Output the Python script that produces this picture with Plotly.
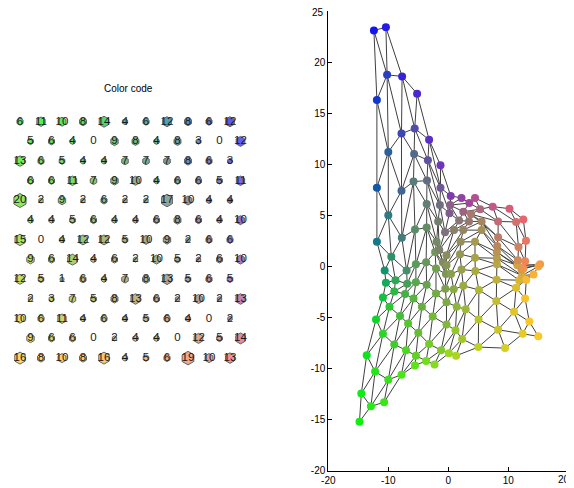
import plotly.graph_objects as go

# ---------------- data ----------------
# hit counts on the 13 x 11 hexagonal SOM grid (rows top->bottom, cols left->right)
hits = [
    [6, 11, 10, 8, 14, 4, 6, 12, 8, 6, 12],
    [5, 6, 4, 0, 9, 8, 4, 8, 3, 0, 12],
    [13, 6, 5, 4, 4, 7, 7, 7, 8, 6, 3],
    [6, 6, 11, 7, 9, 10, 4, 6, 6, 5, 11],
    [20, 2, 9, 2, 6, 2, 2, 17, 10, 4, 4],
    [4, 4, 5, 6, 4, 4, 6, 8, 6, 4, 10],
    [15, 0, 4, 12, 12, 5, 10, 9, 2, 6, 6],
    [9, 6, 14, 4, 6, 2, 10, 5, 2, 6, 10],
    [12, 5, 1, 6, 4, 7, 8, 13, 5, 6, 5],
    [2, 3, 7, 5, 8, 13, 6, 2, 10, 2, 13],
    [10, 6, 11, 4, 6, 4, 5, 6, 4, 0, 2],
    [9, 6, 6, 0, 2, 4, 4, 0, 12, 5, 14],
    [16, 8, 10, 8, 16, 4, 5, 6, 19, 10, 13],
]

# projected codebook positions, per grid row, grid columns 0..10
proj_x = [
    [-14.8, -14.5, -13.6, -12.05, -10.9, -10.4, -10.6, -11.9, -11.9, -11.9, -12.4],
    [-12.9, -12.2, -10.9, -9.8, -9.0, -8.8, -9.5, -10.0, -10.0, -10.2, -10.4],
    [-10.7, -10.0, -9.0, -8.05, -7.2, -6.85, -6.95, -7.75, -7.8, -7.8, -7.7],
    [-7.8, -7.05, -6.7, -5.8, -5.4, -5.4, -5.55, -5.8, -5.7, -5.6, -5.2],
    [-5.55, -5.4, -5.0, -4.4, -3.6, -3.7, -3.6, -3.6, -3.55, -3.4, -3.2],
    [-3.7, -3.2, -2.6, -2.05, -2.05, -2.2, -1.95, -1.7, -1.4, -1.3, -1.3],
    [-2.3, -1.2, -0.3, -0.3, -0.5, -0.4, -0.9, -1.5, -0.55, 0.2, 0.4],
    [0.1, 1.2, 1.4, 0.9, 0.45, -0.3, -0.3, 0.95, 1.8, 0.3, 2.2],
    [1.3, 2.3, 2.9, 2.5, 2.2, 1.95, 2.05, 2.5, 3.45, 2.5, 3.5],
    [5.0, 5.05, 5.1, 4.5, 4.45, 4.45, 5.55, 5.55, 3.8, 5.3, 4.45],
    [9.45, 8.3, 8.0, 8.05, 8.1, 8.1, 8.1, 8.15, 8.3, 8.3, 7.4],
    [12.4, 10.95, 11.3, 11.8, 12.3, 11.5, 12.2, 11.6, 11.7, 11.3, 10.2],
    [15.0, 13.5, 12.8, 13.0, 14.2, 15.0, 15.3, 12.5, 12.8, 12.95, 12.5],
]
proj_y = [
    [-15.2, -12.45, -8.7, -5.2, -3.05, -1.6, -0.4, 2.4, 7.7, 16.3, 23.1],
    [-13.7, -10.3, -6.6, -3.95, -2.45, -1.35, 0.95, 5.0, 11.2, 18.75, 23.4],
    [-13.3, -11.1, -7.65, -4.85, -2.7, -1.7, -0.4, 2.8, 7.4, 13.0, 18.6],
    [-10.6, -8.2, -5.6, -3.15, -1.55, 0.2, 3.6, 8.3, 11.0, 13.5, 16.9],
    [-9.7, -8.75, -6.5, -3.95, -1.8, 0.4, 3.8, 6.1, 8.4, 10.4, 12.4],
    [-9.25, -7.6, -4.9, -2.65, -0.2, 1.4, 2.4, 4.4, 6.0, 7.7, 9.9],
    [-9.6, -8.2, -5.7, -3.5, -2.2, -0.75, 0.4, 1.6, 3.35, 5.2, 6.9],
    [-8.5, -6.25, -3.95, -2.25, -0.75, 0.1, 1.1, 3.55, 4.5, 6.0, 6.7],
    [-8.75, -7.1, -4.2, -1.9, -0.3, 1.2, 2.4, 3.55, 4.4, 5.35, 6.2],
    [-7.9, -5.2, -2.3, -0.45, 0.85, 2.4, 3.55, 4.4, 5.1, 5.6, 6.7],
    [-8.0, -6.2, -3.4, -1.3, 0.2, 0.8, 1.4, 2.0, 2.85, 4.4, 5.85],
    [-6.6, -4.45, -2.1, -1.35, -0.9, 0.1, -0.3, 0.6, 1.9, 4.35, 5.65],
    [-6.85, -5.4, -3.15, -1.3, -0.8, 0.0, 0.2, -0.2, 0.5, 2.5, 4.6],
]

x_ticks = [-20, -10, 0, 10, 20]
y_ticks = [-20, -15, -10, -5, 0, 5, 10, 15, 20, 25]
title_text = "Color code"

# ---------------- styling ----------------
n_rows, n_cols = len(hits), len(hits[0])
TL = (15, 240, 15)
TR = (20, 20, 240)
BL = (250, 200, 40)
BR = (232, 100, 110)
MID = (118, 122, 108)


def node_color(r, c):
    a = r / (n_rows - 1)
    bl = c / (n_cols - 1)
    b = bl ** 1.7
    w = 0.45 * (4 * a * (1 - a)) * (4 * bl * (1 - bl))
    ch = []
    for k in range(3):
        top = TL[k] * (1 - b) + TR[k] * b
        bot = BL[k] * (1 - b) + BR[k] * b
        v = top * (1 - a) + bot * a
        v = v * (1 - w) + MID[k] * w
        ch.append(int(round(v)))
    return "rgb(%d,%d,%d)" % tuple(ch)


# page is shown with the browser's default 8px body margin
OFF = 8
W, H = 574 - OFF, 488 - OFF


def fx(px):
    return (px - OFF) / W


def fy(py):
    return 1 - (py - OFF) / H


FONT = "Arial, Liberation Sans, sans-serif"
TICKFONT = dict(size=10, color="black", family=FONT)
fig = go.Figure()

# edges of the hexagonal lattice
ex, ey = [], []
for r in range(n_rows):
    for c in range(n_cols):
        nb = []
        if c + 1 < n_cols:
            nb.append((r, c + 1))
        if r + 1 < n_rows:
            cand = [(r + 1, c - 1), (r + 1, c)] if r % 2 == 0 else [(r + 1, c), (r + 1, c + 1)]
            nb += [(rr, cc) for rr, cc in cand if 0 <= cc < n_cols]
        for rr, cc in nb:
            ex += [proj_x[r][c], proj_x[rr][cc], None]
            ey += [proj_y[r][c], proj_y[rr][cc], None]

fig.add_trace(go.Scatter(x=ex, y=ey, mode="lines",
                         line=dict(color="#404040", width=1),
                         hoverinfo="skip", xaxis="x", yaxis="y"))

nx, ny, ncol = [], [], []
for r in range(n_rows):
    for c in range(n_cols):
        nx.append(proj_x[r][c])
        ny.append(proj_y[r][c])
        ncol.append(node_color(r, c))
fig.add_trace(go.Scatter(x=nx, y=ny, mode="markers",
                         marker=dict(size=8, color=ncol, line=dict(width=0)),
                         xaxis="x", yaxis="y"))

# left panel: colour code hexagons with hit counts
hx, hy, hs, hc, tx, ty, tt = [], [], [], [], [], [], []
for r in range(n_rows):
    for c in range(n_cols):
        u = c + 0.5 * (r % 2)
        h = hits[r][c]
        if h > 0:
            hx.append(u)
            hy.append(r)
            hs.append(4 + 10 * h / 20)
            hc.append(node_color(r, c))
        tx.append(u)
        ty.append(r)
        tt.append(str(h))

fig.add_trace(go.Scatter(x=hx, y=hy, mode="markers",
                         marker=dict(symbol="hexagon", size=hs, color=hc,
                                     line=dict(color="#202020", width=1)),
                         xaxis="x2", yaxis="y2"))
fig.add_trace(go.Scatter(x=tx, y=ty, mode="text", text=tt,
                         textfont=dict(size=11.5, color="#1a1a1a", family=FONT),
                         xaxis="x2", yaxis="y2"))

fig.add_annotation(text=title_text, x=fx(128), y=fy(89), xref="paper", yref="paper",
                   xanchor="center", yanchor="middle",
                   showarrow=False, font=dict(size=10, color="black", family=FONT))

# end tick labels sit at the page edge: draw them as text nudged just inside
top_tick = y_ticks[-1]
y_ticktext = [str(v) for v in y_ticks[:-1]] + [""]
fig.add_annotation(text=str(top_tick), x=fx(325.5), y=top_tick, xref="paper", yref="y",
                   xanchor="right", yanchor="middle", yshift=-2, showarrow=False,
                   font=TICKFONT)
right_tick = x_ticks[-1]
x_ticktext = [str(v) for v in x_ticks[:-1]] + [""]
fig.add_annotation(text=str(right_tick), x=right_tick, y=fy(479), xref="x", yref="paper",
                   xanchor="center", yanchor="middle", xshift=-4, showarrow=False,
                   font=TICKFONT)

axis_common = dict(showgrid=False, zeroline=False, showline=True, linecolor="black",
                   linewidth=1, ticks="inside", ticklen=4, tickcolor="black",
                   tickfont=TICKFONT, mirror=False,
                   automargin=False, ticklabeloverflow="allow")

# grid-unit mapping of the left panel: page x = 20 + 21*u, page y = 121.7 + 19.7*r
fig.update_layout(
    width=W, height=H,
    margin=dict(l=0, r=0, t=0, b=0, pad=0),
    paper_bgcolor="white", plot_bgcolor="white",
    showlegend=False,
    xaxis=dict(domain=[fx(328.3), fx(568.3)], range=[-20, 20], tickvals=x_ticks,
               ticktext=x_ticktext, anchor="y", **axis_common),
    yaxis=dict(domain=[fy(470.7), fy(11)], range=[-20, 25], tickvals=y_ticks,
               ticktext=y_ticktext, anchor="x", **axis_common),
    xaxis2=dict(domain=[fx(8), fx(250)], range=[(8 - 20) / 21, (250 - 20) / 21],
                visible=False, anchor="y2", automargin=False),
    yaxis2=dict(domain=[fy(488), fy(8)], range=[(488 - 121.7) / 19.7, (8 - 121.7) / 19.7],
                visible=False, anchor="x2", automargin=False),
)

fig.write_html("out.html")
